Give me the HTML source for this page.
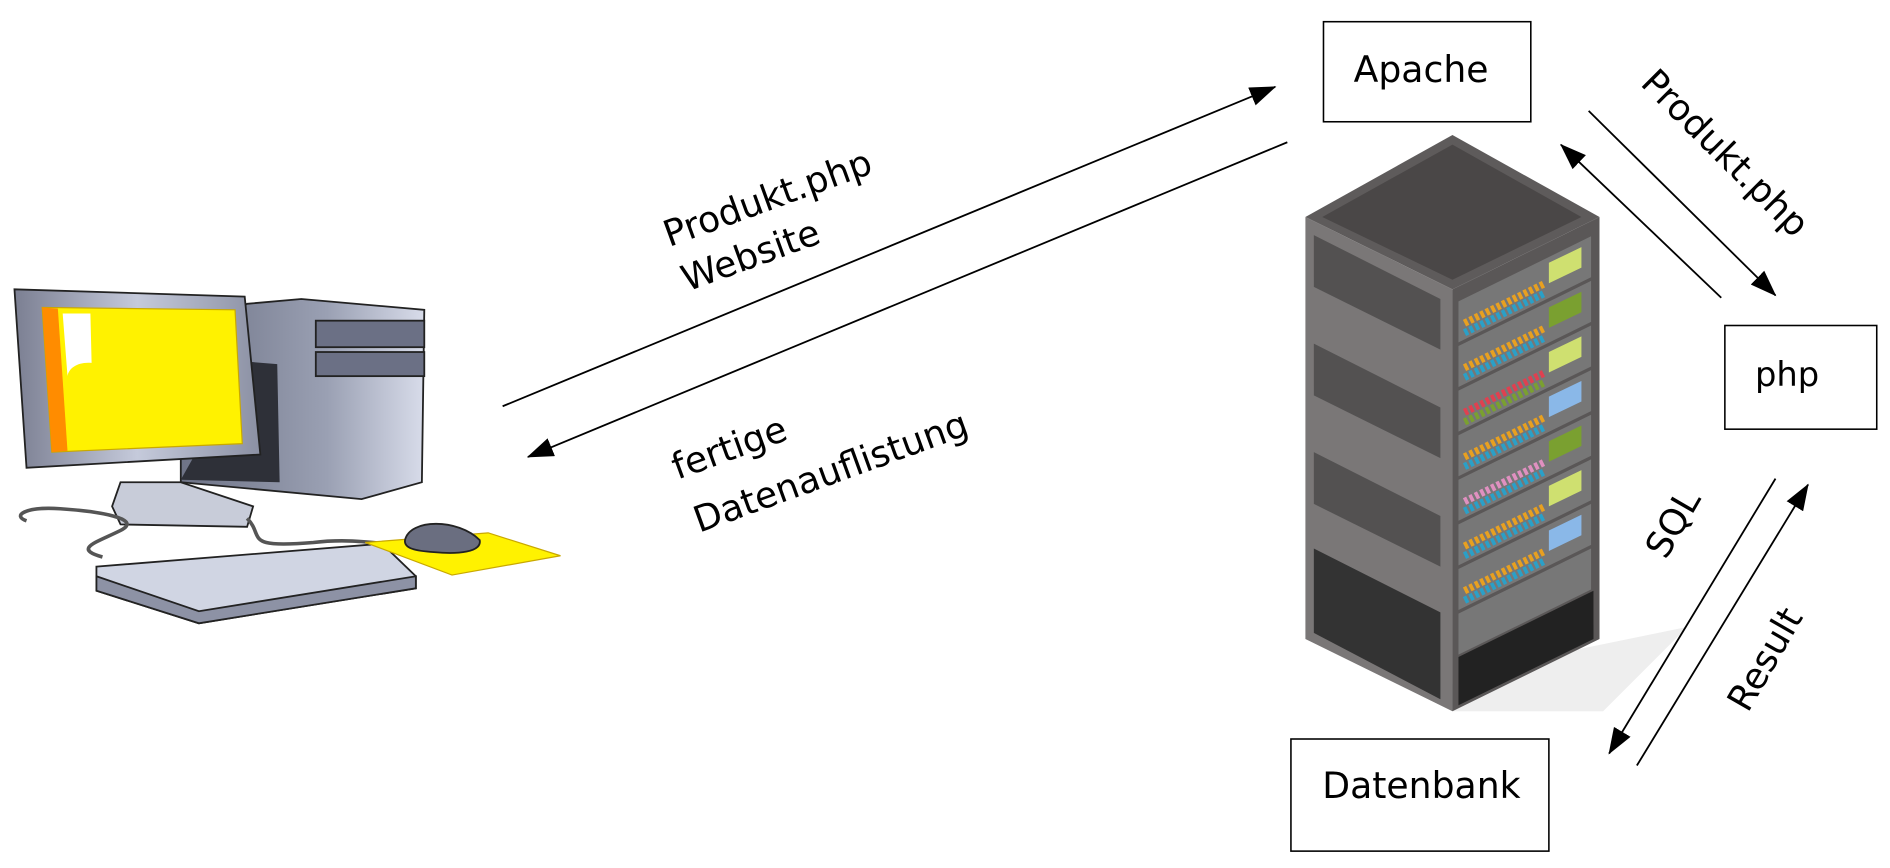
<!DOCTYPE html>
<html><head><meta charset="utf-8"><style>
html,body{margin:0;padding:0;background:#fff;width:1890px;height:868px;overflow:hidden}
svg{display:block}
text{font-family:"DejaVu Sans","Liberation Sans",sans-serif;fill:#000}
</style></head><body>
<svg width="1890" height="868" viewBox="0 0 1568 720" preserveAspectRatio="none">
<defs>
<marker id="a" markerWidth="22" markerHeight="16" refX="21" refY="8" orient="auto" markerUnits="userSpaceOnUse" viewBox="0 0 22 16"><path d="M0,0 L22,8 L0,16 z" fill="#000"/></marker>
<linearGradient id="g1" x1="0" x2="1"><stop offset="0" stop-color="#6e7386"/><stop offset="0.6" stop-color="#9aa0b3"/><stop offset="1" stop-color="#d8dcea"/></linearGradient>
<linearGradient id="g2" x1="0" x2="1"><stop offset="0" stop-color="#7b7f92"/><stop offset="0.5" stop-color="#c5cadb"/><stop offset="1" stop-color="#8b90a3"/></linearGradient>
</defs>
<!-- computer -->
<g stroke="#222" stroke-width="1.5">
<path d="M205,252 L250,248 L352,257 L350,400 L300,414 L150,400 L150,290 Z" fill="url(#g1)"/>
<rect x="262" y="266" width="90" height="22" fill="#6b7085"/>
<rect x="262" y="292" width="90" height="20" fill="#6b7085"/>
<path d="M205,300 L230,302 L232,400 L150,398 Z" fill="#2e3038" stroke="none"/>
<path d="M100,400 L93,420 L100,435 L205,437 L210,420 L150,400 Z" fill="#c8ccd9"/>
<path d="M12,240 L203,246 L216,377 L22,388 Z" fill="url(#g2)"/>
<path d="M35,255 L195,257 L201,368 L43,375 Z" fill="#fff200" stroke="#c9a800" stroke-width="1"/>
<path d="M35,255 L48,256 L56,374 L43,375 Z" fill="#ff8c00" stroke="none"/>
<path d="M52,260 L75,260 L76,301 C65,300 57,305 56,312 Z" fill="#fff" stroke="none"/>
<path d="M22,432 C10,428 20,420 50,422 C80,424 120,430 100,440 C80,450 60,455 85,462" fill="none" stroke="#555" stroke-width="3"/>
<path d="M205,430 C220,445 200,455 260,450 C300,445 330,455 345,452" fill="none" stroke="#555" stroke-width="3"/>
<path d="M80,470 L317,451 L345,478 L345,488 L165,517 L80,490 Z" fill="#d0d5e3"/>
<path d="M80,478 L165,507 L345,478 L345,488 L165,517 L80,490 Z" fill="#8d92a5"/>
<path d="M303,450 L405,442 L465,461 L375,477 Z" fill="#fff200" stroke="#c9a800" stroke-width="1"/>
<path d="M336,448 C340,430 380,430 398,448 C400,458 380,460 360,458 C345,457 335,455 336,448 Z" fill="#6a6e80"/>
</g>
<!-- server -->
<path d="M1205,560 L1400,520 L1330,590 L1205,590 Z" fill="#eee"/>
<path d="M1083,180 L1205,112 L1327,180 L1205,240 Z" fill="#5e5b5b"/>
<path d="M1097,180 L1205,120 L1312,180 L1205,232 Z" fill="#4a4747"/>
<path d="M1083,180 L1205,240 L1205,590 L1083,530 Z" fill="#7a7777"/>
<path d="M1205,240 L1327,180 L1327,530 L1205,590 Z" fill="#5a5757"/>
<g fill="#333">
<path d="M1090,195 L1195,248 L1195,290 L1090,238 Z" opacity="0.55"/>
<path d="M1090,285 L1195,338 L1195,380 L1090,328 Z" opacity="0.55"/>
<path d="M1090,375 L1195,428 L1195,470 L1090,418 Z" opacity="0.55"/>
<path d="M1090,455 L1195,508 L1195,580 L1090,525 Z"/>
</g>
<g fill="#777">
<path d="M1210,250 L1320,196 L1320,230 L1210,284 Z"/>
<path d="M1210,287 L1320,233 L1320,267 L1210,321 Z"/>
<path d="M1210,324 L1320,270 L1320,304 L1210,358 Z"/>
<path d="M1210,361 L1320,307 L1320,341 L1210,395 Z"/>
<path d="M1210,398 L1320,344 L1320,378 L1210,432 Z"/>
<path d="M1210,435 L1320,381 L1320,415 L1210,469 Z"/>
<path d="M1210,472 L1320,418 L1320,452 L1210,506 Z"/>
<path d="M1210,509 L1320,455 L1320,489 L1210,543 Z"/>
</g>
<g stroke-width="6" stroke-dasharray="3,2">
<path d="M1215,268 L1282,235" stroke="#e8a020"/><path d="M1215,276 L1282,243" stroke="#2aa0c8"/>
<path d="M1215,305 L1282,272" stroke="#e8a020"/><path d="M1215,313 L1282,280" stroke="#2aa0c8"/>
<path d="M1215,342 L1282,309" stroke="#e04050"/><path d="M1215,350 L1282,317" stroke="#7aa030"/>
<path d="M1215,379 L1282,346" stroke="#e8a020"/><path d="M1215,387 L1282,354" stroke="#2aa0c8"/>
<path d="M1215,416 L1282,383" stroke="#e090c0"/><path d="M1215,424 L1282,391" stroke="#2aa0c8"/>
<path d="M1215,453 L1282,420" stroke="#e8a020"/><path d="M1215,461 L1282,428" stroke="#2aa0c8"/>
<path d="M1215,490 L1282,457" stroke="#e8a020"/><path d="M1215,498 L1282,465" stroke="#2aa0c8"/>
</g>
<g>
<path d="M1285,218 L1312,205 L1312,222 L1285,235 Z" fill="#cfe070"/>
<path d="M1285,255 L1312,242 L1312,259 L1285,272 Z" fill="#7aa030"/>
<path d="M1285,292 L1312,279 L1312,296 L1285,309 Z" fill="#cfe070"/>
<path d="M1285,329 L1312,316 L1312,333 L1285,346 Z" fill="#8ab8e8"/>
<path d="M1285,366 L1312,353 L1312,370 L1285,383 Z" fill="#7aa030"/>
<path d="M1285,403 L1312,390 L1312,407 L1285,420 Z" fill="#cfe070"/>
<path d="M1285,440 L1312,427 L1312,444 L1285,457 Z" fill="#8ab8e8"/>
</g>
<path d="M1210,545 L1322,490 L1322,530 L1210,585 Z" fill="#222"/>
<!-- boxes -->
<g fill="#fff" stroke="#000" stroke-width="1.3">
<rect x="1098" y="18" width="172" height="83"/>
<rect x="1431" y="270" width="126" height="86"/>
<rect x="1071" y="613" width="214" height="93"/>
</g>
<text x="1123" y="68" font-size="30">Apache</text>
<text x="1456" y="320" font-size="28">php</text>
<text x="1097" y="662" font-size="30">Datenbank</text>
<!-- arrows -->
<g stroke="#000" stroke-width="1.5" fill="none" marker-end="url(#a)">
<line x1="417" y1="337" x2="1058" y2="72"/>
<line x1="1068" y1="118" x2="438" y2="379"/>
<line x1="1318" y1="92" x2="1473" y2="245"/>
<line x1="1428" y1="247" x2="1295" y2="120"/>
<line x1="1473" y1="397" x2="1335" y2="625"/>
<line x1="1358" y1="635" x2="1500" y2="402"/>
</g>
<g font-size="30">
<text transform="translate(555,205) rotate(-20)">Produkt.php</text>
<text transform="translate(570,242) rotate(-20)">Website</text>
<text transform="translate(562,398) rotate(-20)">fertige</text>
<text transform="translate(580,442) rotate(-20)">Datenauflistung</text>
<text transform="translate(1360,70) rotate(45)">Produkt.php</text>
<text transform="translate(1382,465) rotate(-60)">SQL</text>
<text transform="translate(1450,592) rotate(-60)">Result</text>
</g>
</svg>
</body></html>
